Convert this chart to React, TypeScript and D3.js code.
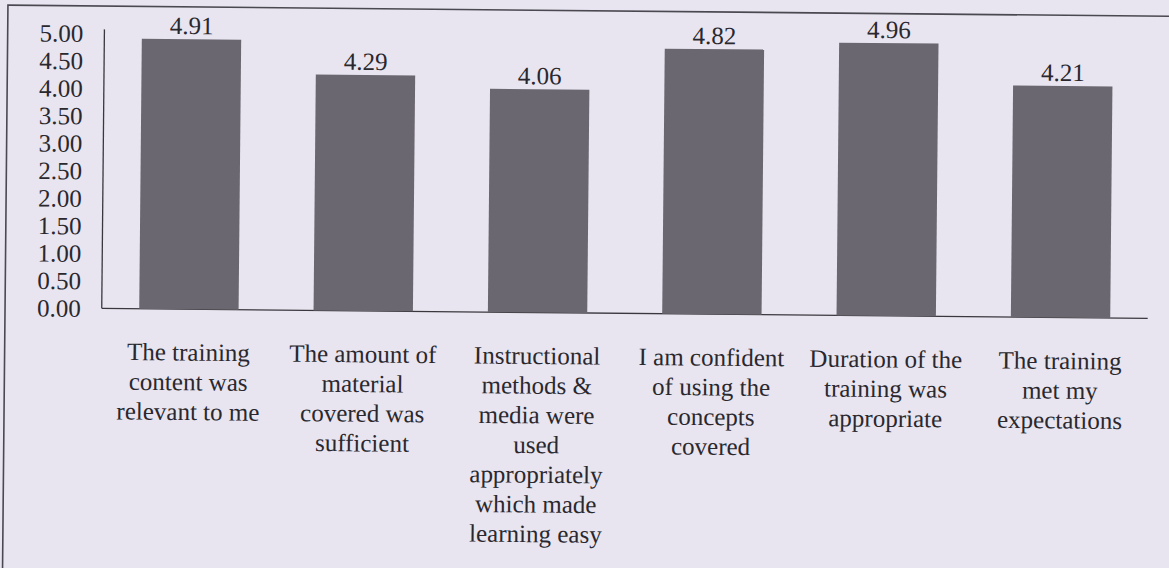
import React from "react";
import * as d3 from "d3";

const categories: string[][] = [
  ["The training", "content was", "relevant to me"],
  ["The amount of", "material", "covered was", "sufficient"],
  ["Instructional", "methods &", "media were", "used", "appropriately", "which made", "learning easy"],
  ["I am confident", "of using the", "concepts", "covered"],
  ["Duration of the", "training was", "appropriate"],
  ["The training", "met my", "expectations"],
];
const values: number[] = [4.91, 4.29, 4.06, 4.82, 4.96, 4.21];
const yTicks: number[] = [0, 0.5, 1, 1.5, 2, 2.5, 3, 3.5, 4, 4.5, 5];

const W = 1169;
const H = 568;
const FONT = '"Liberation Serif", "Times New Roman", Times, "DejaVu Serif", serif';

export default function App() {
  const ids = categories.map((_, i) => String(i));
  const x = d3
    .scaleBand<string>()
    .domain(ids)
    .range([102, 1148])
    .paddingInner(0.43)
    .paddingOuter(0.215);
  const y = d3.scaleLinear().domain([0, 5]).range([313, 38]);
  const fmt = d3.format(".2f");
  const textStyle: React.CSSProperties = { fontFamily: FONT, fontSize: 25 };

  return (
    <svg
      width={W}
      height={H}
      style={{ position: "absolute", left: 0, top: 0, display: "block" }}
    >
      <rect x={0} y={0} width={W} height={H} fill="#e8e5f0" />
      <g transform="rotate(0.55 585 284)">
        <rect x={5.3} y={10.7} width={1250} height={650} fill="none" stroke="#4a4850" strokeWidth={1.6} />
        {/* axes */}
        <line x1={102} x2={102} y1={y(5) - 4} y2={y(0)} stroke="#3a383e" strokeWidth={1.3} />
        <line x1={102} x2={1148} y1={y(0)} y2={y(0)} stroke="#3a383e" strokeWidth={1.3} />
        {yTicks.map((t) => (
          <text
            key={t}
            x={81}
            y={y(t)}
            dy="0.35em"
            textAnchor="end"
            style={textStyle}
            fill="#2a282e"
          >
            {fmt(t)}
          </text>
        ))}
        {values.map((v, i) => {
          const bx = x(String(i)) as number;
          const bw = x.bandwidth();
          return (
            <g key={i}>
              <rect x={bx} y={y(v)} width={bw} height={y(0) - y(v)} fill="#6b6770" />
              <text
                x={bx + bw / 2}
                y={y(v) - 5}
                textAnchor="middle"
                style={textStyle}
                fill="#2a282e"
              >
                {fmt(v)}
              </text>
              <text x={bx + bw / 2} textAnchor="middle" style={textStyle} fill="#2a282e">
                {categories[i].map((line, j) => (
                  <tspan key={j} x={bx + bw / 2} y={364.5 + j * 29.7}>
                    {line}
                  </tspan>
                ))}
              </text>
            </g>
          );
        })}
      </g>
    </svg>
  );
}
